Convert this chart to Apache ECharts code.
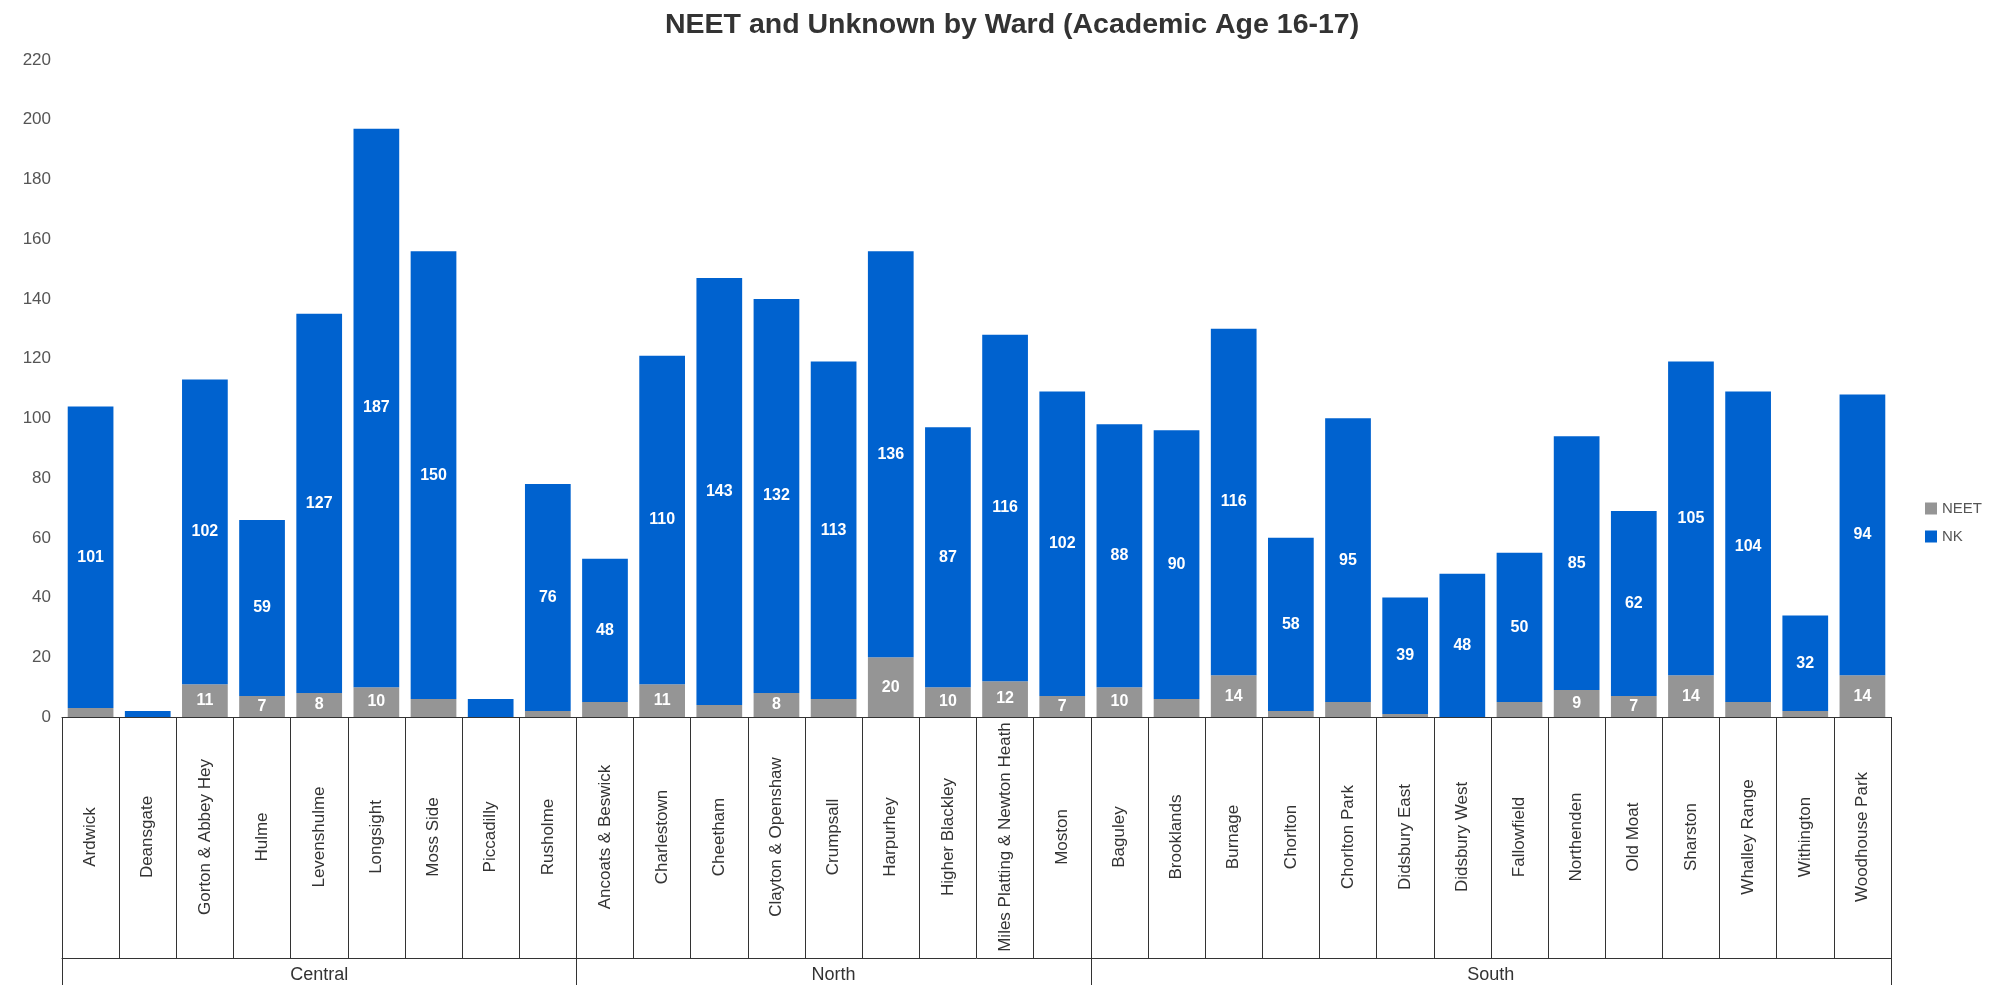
<!DOCTYPE html>
<html lang="en">
<head>
<meta charset="UTF-8">
<title>NEET and Unknown by Ward</title>
<style>html,body{margin:0;padding:0;background:#fff;}</style>
</head>
<body>
<div id="main" style="width:1998px;height:985px;"></div>
<script src="https://cdn.jsdelivr.net/npm/echarts@6/dist/echarts.min.js"></script>
<script>
// wards, grouped by region (in order)
var wards = ['Ardwick', 'Deansgate', 'Gorton & Abbey Hey', 'Hulme', 'Levenshulme', 'Longsight', 'Moss Side', 'Piccadilly', 'Rusholme',
  'Ancoats & Beswick', 'Charlestown', 'Cheetham', 'Clayton & Openshaw', 'Crumpsall', 'Harpurhey', 'Higher Blackley', 'Miles Platting & Newton Heath', 'Moston',
  'Baguley', 'Brooklands', 'Burnage', 'Chorlton', 'Chorlton Park', 'Didsbury East', 'Didsbury West', 'Fallowfield', 'Northenden', 'Old Moat', 'Sharston', 'Whalley Range', 'Withington', 'Woodhouse Park'];
var regionNames = ['Central', 'North', 'South'];
var regionSizes = [9, 9, 14];
var neet = [3, 0, 11, 7, 8, 10, 6, 0, 2,
  5, 11, 4, 8, 6, 20, 10, 12, 7,
  10, 6, 14, 2, 5, 1, 0, 5, 9, 7, 14, 5, 2, 14];
var nk = [101, 2, 102, 59, 127, 187, 150, 6, 76,
  48, 110, 143, 132, 113, 136, 87, 116, 102,
  88, 90, 116, 58, 95, 39, 48, 50, 85, 62, 105, 104, 32, 94];

var FONT = "'Liberation Sans', Arial, sans-serif";

// region of every ward + where region ticks / labels go
var regionOfWard = [];
var regionStarts = [];
var regionLabelAt = {};
var pos = 0;
regionNames.forEach(function (r, i) {
  regionStarts.push(pos);
  var mid = pos + Math.floor((regionSizes[i] - 1) / 2);
  regionLabelAt[mid] = { name: r, even: regionSizes[i] % 2 === 0 };
  for (var k = 0; k < regionSizes[i]; k++) regionOfWard.push(r);
  pos += regionSizes[i];
});

var myChart = echarts.init(document.getElementById('main'));

var barLabel = {
  show: true,
  position: 'inside',
  color: '#fff',
  fontWeight: 'bold',
  fontSize: 16,
  fontFamily: FONT,
  formatter: function (p) { return p.value >= 7 ? p.value : ''; }
};

var option = {
  backgroundColor: '#fff',
  animation: false,
  title: {
    text: 'NEET and Unknown by Ward (Academic Age 16-17)',
    left: 660,
    top: 6,
    textStyle: { fontFamily: FONT, fontSize: 28.5, fontWeight: 'bold', color: '#333' }
  },
  legend: {
    data: ['NEET', 'NK'],
    orient: 'vertical',
    left: 1920,
    top: 496,
    icon: 'rect',
    itemWidth: 12,
    itemHeight: 12,
    itemGap: 13,
    textStyle: { fontFamily: FONT, fontSize: 15, color: '#555' }
  },
  grid: { left: 62, right: 107, top: 60, bottom: 268 },
  xAxis: [{
    type: 'category',
    data: wards,
    position: 'bottom',
    axisLine: { lineStyle: { color: '#333', width: 1 } },
    axisTick: { show: true, length: 241, interval: 0, lineStyle: { color: '#333' } },
    axisLabel: {
      interval: 0,
      rotate: 90,
      margin: 120,
      align: 'center',
      verticalAlign: 'middle',
      fontFamily: FONT,
      fontSize: 17,
      color: '#333'
    }
  }, {
    type: 'category',
    data: regionOfWard,
    position: 'bottom',
    offset: 241,
    axisLine: { lineStyle: { color: '#333', width: 1 } },
    axisTick: {
      show: true,
      length: 30,
      interval: function (i) { return regionStarts.indexOf(i) >= 0; },
      lineStyle: { color: '#333' }
    },
    axisLabel: {
      interval: function (i) { return !!regionLabelAt[i]; },
      margin: 8,
      fontFamily: FONT,
      fontSize: 18,
      color: '#333',
      formatter: function (v, i) {
        var l = regionLabelAt[i];
        if (!l) return '';
        return l.even ? '{e|' + l.name + '}' : l.name;
      },
      rich: {
        e: { padding: [0, 0, 0, 57], fontFamily: FONT, fontSize: 18, color: '#333' }
      }
    }
  }],
  yAxis: {
    type: 'value',
    min: 0,
    max: 220,
    interval: 20,
    axisLine: { show: false },
    axisTick: { show: false },
    splitLine: { show: false },
    axisLabel: { margin: 11, fontFamily: FONT, fontSize: 17, color: '#555' }
  },
  series: [{
    name: 'NEET',
    type: 'bar',
    stack: 'total',
    barCategoryGap: '20%',
    itemStyle: { color: '#959595' },
    label: barLabel,
    data: neet
  }, {
    name: 'NK',
    type: 'bar',
    stack: 'total',
    barCategoryGap: '20%',
    itemStyle: { color: '#0062CF' },
    label: barLabel,
    data: nk
  }]
};

myChart.setOption(option);
</script>
</body>
</html>
